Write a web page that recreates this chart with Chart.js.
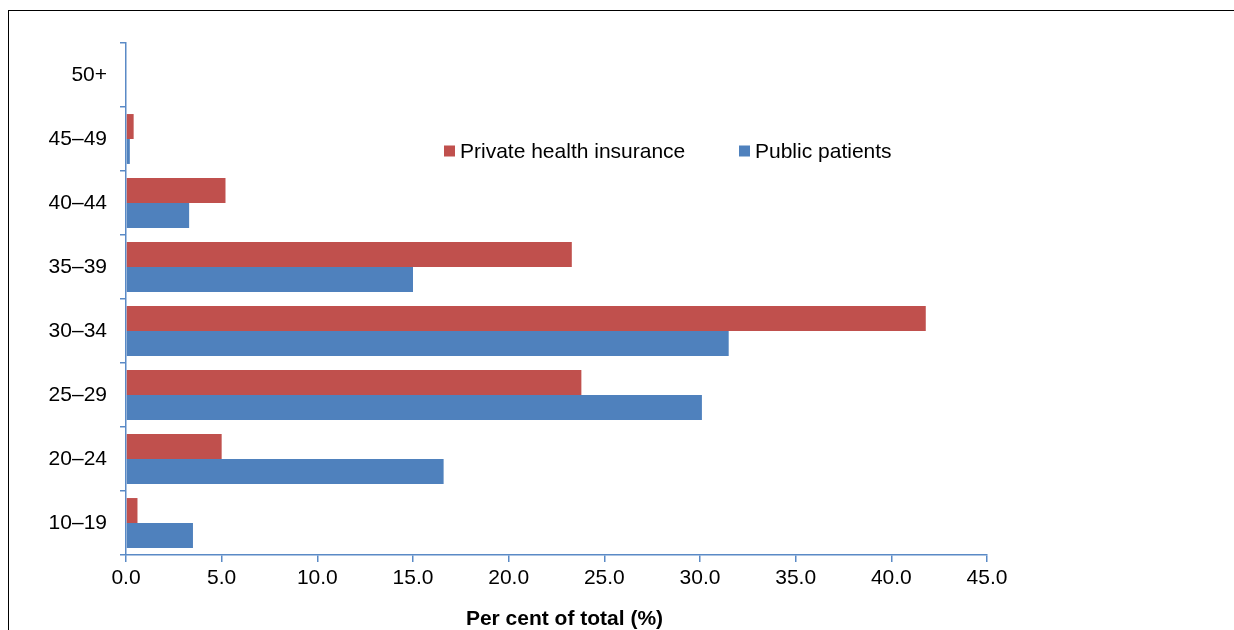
<!DOCTYPE html>
<html>
<head>
<meta charset="utf-8">
<script src="https://cdn.jsdelivr.net/npm/chart.js@4/dist/chart.umd.min.js"></script>
<style>
  html, body { margin: 0; padding: 0; background: #fff; overflow: hidden; }
  #frame { position: absolute; left: 8px; top: 10px; width: 1240px; height: 640px; border: 1px solid #000; box-sizing: border-box; }
  #wrap { position: absolute; left: 0; top: 0; width: 1234px; height: 630px; }
</style>
</head>
<body>
<div id="frame"></div>
<div id="wrap"><canvas id="c" width="1234" height="630"></canvas></div>
<script>
// Age groups, top to bottom
const ageGroups = ['50+', '45–49', '40–44', '35–39', '30–34', '25–29', '20–24', '10–19'];
// Per cent of total, by funding source
const privateHealthInsurance = [0.0, 0.4, 5.2, 23.3, 41.8, 23.8, 5.0, 0.6];
const publicPatients = [0.0, 0.2, 3.3, 15.0, 31.5, 30.1, 16.6, 3.5];
const xTickMin = 0;
const xTickMax = 45;
const xTickStep = 5;
const xAxisTitle = 'Per cent of total (%)';

const RED = '#C0504D';
const BLUE = '#4F81BD';
const AXIS = '#5A8AC6';
const FONT = '"Liberation Sans", Arial, sans-serif';

// Legend drawn inside the plot area, in one row
const insideLegend = {
  id: 'insideLegend',
  afterDraw(chart) {
    const ctx = chart.ctx;
    ctx.save();
    ctx.font = '21px ' + FONT;
    ctx.textBaseline = 'middle';
    const y = 151;
    const positions = [444, 739];
    chart.data.datasets.forEach((ds, i) => {
      const x = positions[i];
      ctx.fillStyle = ds.backgroundColor;
      ctx.fillRect(x, y - 5.5, 11, 11);
      ctx.fillStyle = '#000';
      ctx.textAlign = 'left';
      ctx.fillText(ds.label, x + 16, y + 1);
    });
    ctx.restore();
  }
};

// Axis title under the x tick labels
const xTitle = {
  id: 'xTitle',
  afterDraw(chart) {
    const ctx = chart.ctx;
    ctx.save();
    ctx.font = 'bold 21px ' + FONT;
    ctx.fillStyle = '#000';
    ctx.textAlign = 'center';
    ctx.textBaseline = 'middle';
    ctx.fillText(xAxisTitle, 564.5, 619);
    ctx.restore();
  }
};

new Chart(document.getElementById('c'), {
  type: 'bar',
  data: {
    labels: ageGroups,
    datasets: [
      {
        label: 'Private health insurance',
        data: privateHealthInsurance,
        backgroundColor: RED,
        borderWidth: 0,
        categoryPercentage: 0.78,
        barPercentage: 1.0
      },
      {
        label: 'Public patients',
        data: publicPatients,
        backgroundColor: BLUE,
        borderWidth: 0,
        categoryPercentage: 0.78,
        barPercentage: 1.0
      }
    ]
  },
  options: {
    indexAxis: 'y',
    responsive: false,
    animation: false,
    devicePixelRatio: 1,
    layout: { padding: { left: 0, right: 247, top: 43, bottom: 0 } },
    plugins: {
      legend: { display: false },
      tooltip: { enabled: false }
    },
    scales: {
      x: {
        min: xTickMin,
        max: xTickMax,
        afterFit(scale) { scale.height = 75; },
        ticks: {
          stepSize: xTickStep,
          color: '#000',
          font: { family: FONT, size: 21 },
          padding: 4,
          maxRotation: 0,
          callback: (v) => Number(v).toFixed(1)
        },
        grid: {
          drawOnChartArea: false,
          drawTicks: true,
          tickLength: 7,
          color: AXIS,
          lineWidth: 1.5
        },
        border: { display: true, color: AXIS, width: 1.5 }
      },
      y: {
        afterFit(scale) { scale.width = 126; },
        ticks: {
          color: '#000',
          font: { family: FONT, size: 21 },
          padding: 13
        },
        grid: {
          drawOnChartArea: false,
          drawTicks: true,
          tickLength: 6,
          offset: true,
          color: AXIS,
          lineWidth: 1.5
        },
        border: { display: true, color: AXIS, width: 1.5 }
      }
    }
  },
  plugins: [insideLegend, xTitle]
});
</script>
</body>
</html>
